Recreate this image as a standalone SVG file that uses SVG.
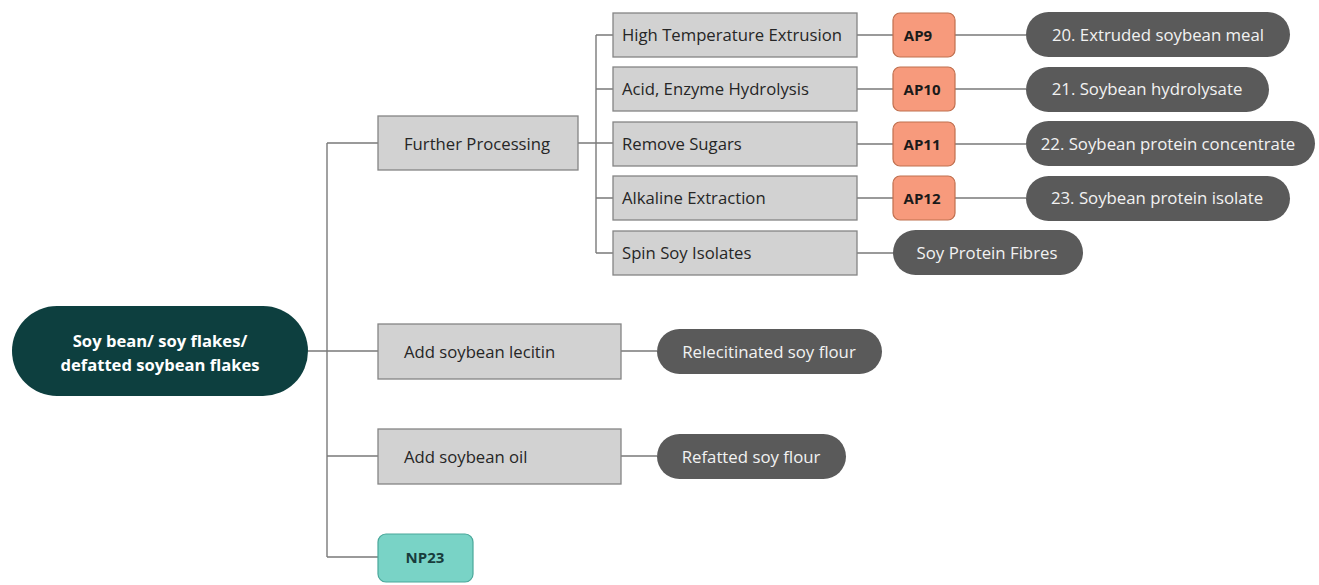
<svg xmlns="http://www.w3.org/2000/svg" width="1319" height="585" viewBox="0 0 1319 585">
  <style>
    .wire { stroke: #7a7a7a; stroke-width: 1.4; fill: none; }
    .step rect { fill: #d2d2d2; stroke: #858585; stroke-width: 1.3; }
    .step text { font-family: "Open Sans", "Liberation Sans", sans-serif; font-size: 16.7px; fill: #262626; }
    .ap rect { fill: #f79a7c; stroke: #c0704f; stroke-width: 1.2; }
    .ap text { font-family: "Open Sans", "Liberation Sans", sans-serif; font-size: 15px; font-weight: bold; fill: #1a1a1a; text-anchor: middle; }
    .product rect { fill: #5a5a5a; }
    .product text { font-family: "Open Sans", "Liberation Sans", sans-serif; font-size: 16.8px; fill: #f2f2f2; text-anchor: middle; }
    .root rect { fill: #0d3f3f; }
    .root text { font-family: "Open Sans", "Liberation Sans", sans-serif; font-size: 16.6px; font-weight: bold; fill: #ffffff; text-anchor: middle; }
    .np rect { fill: #79d3c6; stroke: #4aa79a; stroke-width: 1.2; }
    .np text { font-family: "Open Sans", "Liberation Sans", sans-serif; font-size: 15px; font-weight: bold; fill: #183c3c; text-anchor: middle; }
  </style>
  <rect width="1319" height="585" fill="#ffffff"/>

  <!-- connectors -->
  <g id="connectors">
    <!-- main trunk -->
    <path class="wire" d="M308 351 H327 M327 143 V557 M327 143 H378 M327 351 H378 M327 456 H378 M327 557 H378"/>
    <!-- further processing trunk -->
    <path class="wire" d="M578 143 H613 M596 35 V253 M596 35 H613 M596 89 H613 M596 198 H613 M596 253 H613"/>
    <!-- steps to AP codes and products -->
    <path class="wire" d="M857 35 H893 M955 35 H1026 M857 89 H893 M955 89 H1026 M857 144 H893 M955 144 H1026 M857 198 H893 M955 198 H1026 M857 253 H893"/>
    <path class="wire" d="M621 351 H657 M621 456 H657"/>
  </g>

  <!-- root -->
  <g id="root" class="root">
    <rect x="12" y="306" width="296" height="90" rx="45"/>
    <text x="160" y="347">Soy bean/ soy flakes/</text>
    <text x="160" y="371">defatted soybean flakes</text>
  </g>

  <!-- processing steps -->
  <g id="further-processing" class="step">
    <rect x="378" y="116" width="200" height="54"/>
    <text x="404" y="150">Further Processing</text>
  </g>
  <g id="high-temp-extrusion" class="step">
    <rect x="613" y="13" width="244" height="44"/>
    <text x="622" y="41">High Temperature Extrusion</text>
  </g>
  <g id="acid-enzyme-hydrolysis" class="step">
    <rect x="613" y="67" width="244" height="44"/>
    <text x="622" y="95">Acid, Enzyme Hydrolysis</text>
  </g>
  <g id="remove-sugars" class="step">
    <rect x="613" y="122" width="244" height="44"/>
    <text x="622" y="150">Remove Sugars</text>
  </g>
  <g id="alkaline-extraction" class="step">
    <rect x="613" y="176" width="244" height="44"/>
    <text x="622" y="204">Alkaline Extraction</text>
  </g>
  <g id="spin-soy-isolates" class="step">
    <rect x="613" y="231" width="244" height="44"/>
    <text x="622" y="259">Spin Soy Isolates</text>
  </g>
  <g id="add-lecitin" class="step">
    <rect x="378" y="324" width="243" height="55"/>
    <text x="404" y="358">Add soybean lecitin</text>
  </g>
  <g id="add-oil" class="step">
    <rect x="378" y="429" width="243" height="55"/>
    <text x="404" y="463">Add soybean oil</text>
  </g>

  <!-- AP codes -->
  <g id="ap9" class="ap">
    <rect x="893" y="13" width="62" height="44" rx="7"/>
    <text x="918" y="41">AP9</text>
  </g>
  <g id="ap10" class="ap">
    <rect x="893" y="67" width="62" height="44" rx="7"/>
    <text x="922" y="95">AP10</text>
  </g>
  <g id="ap11" class="ap">
    <rect x="893" y="122" width="62" height="44" rx="7"/>
    <text x="922" y="150">AP11</text>
  </g>
  <g id="ap12" class="ap">
    <rect x="893" y="176" width="62" height="44" rx="7"/>
    <text x="922" y="204">AP12</text>
  </g>

  <!-- products -->
  <g id="p20" class="product">
    <rect x="1026" y="12" width="264" height="45" rx="22.5"/>
    <text x="1158" y="41">20. Extruded soybean meal</text>
  </g>
  <g id="p21" class="product">
    <rect x="1026" y="67" width="243" height="45" rx="22.5"/>
    <text x="1147" y="95">21. Soybean hydrolysate</text>
  </g>
  <g id="p22" class="product">
    <rect x="1026" y="121" width="289" height="45" rx="22.5"/>
    <text x="1168" y="150">22. Soybean protein concentrate</text>
  </g>
  <g id="p23" class="product">
    <rect x="1026" y="176" width="264" height="45" rx="22.5"/>
    <text x="1157" y="204">23. Soybean protein isolate</text>
  </g>
  <g id="soy-protein-fibres" class="product">
    <rect x="893" y="230" width="190" height="45" rx="22.5"/>
    <text x="987" y="259">Soy Protein Fibres</text>
  </g>
  <g id="relecitinated-flour" class="product">
    <rect x="657" y="329" width="225" height="45" rx="22.5"/>
    <text x="769" y="358">Relecitinated soy flour</text>
  </g>
  <g id="refatted-flour" class="product">
    <rect x="657" y="434" width="189" height="45" rx="22.5"/>
    <text x="751" y="463">Refatted soy flour</text>
  </g>

  <!-- NP23 -->
  <g id="np23" class="np">
    <rect x="378" y="534" width="95" height="48" rx="8"/>
    <text x="425" y="563">NP23</text>
  </g>
</svg>
